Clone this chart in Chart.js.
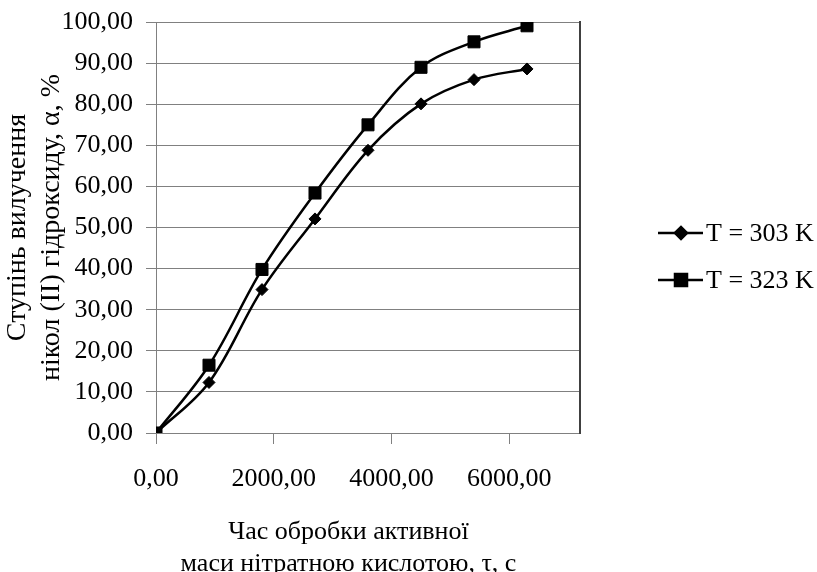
<!DOCTYPE html>
<html>
<head>
<meta charset="utf-8">
<script src="https://cdn.jsdelivr.net/npm/chart.js@4.4.0/dist/chart.umd.min.js"></script>
<style>
  html, body { margin: 0; padding: 0; background: #fff; }
  #wrap { width: 817px; height: 572px; }
</style>
</head>
<body>
<div id="wrap"><canvas id="chart" width="817" height="572"></canvas></div>
<script>
// час обробки, с
const timeSec = [0, 900, 1800, 2700, 3600, 4500, 5400, 6300];
// ступінь вилучення, %
const alpha303 = [0, 12.3, 34.9, 52.1, 68.8, 80.1, 86.0, 88.6];
const alpha323 = [0, 16.5, 39.8, 58.4, 75.0, 89.0, 95.2, 99.1];
const seriesLabels = ['T = 303 K', 'T = 323 K'];
const xTicks = [0, 2000, 4000, 6000];
const yTicks = [0, 10, 20, 30, 40, 50, 60, 70, 80, 90, 100];
const yTitle = ['Ступінь вилучення', 'нікол (II) гідроксиду, α, %'];
const xTitle = ['Час обробки активної\u00a0\u00a0\u00a0\u00a0\u00a0\u00a0', 'маси нітратною кислотою, τ, с\u00a0\u00a0\u00a0\u00a0\u00a0\u00a0'];

const serif = 'Liberation Serif, "Times New Roman", serif';
const fmt = v => v.toFixed(2).replace('.', ',');
const toPoints = ys => ys.map((y, i) => ({ x: timeSec[i], y }));

// легенда: лінія з маркером, як у Excel
const legendPlugin = {
    id: 'sideLegend',
    afterDraw(chart) {
        const ctx = chart.ctx;
        const rows = [233, 280];
        chart.data.datasets.forEach((ds, i) => {
            const y = rows[i];
            ctx.save();
            ctx.strokeStyle = ds.borderColor;
            ctx.lineWidth = ds.borderWidth;
            ctx.beginPath();
            ctx.moveTo(658, y);
            ctx.lineTo(703, y);
            ctx.stroke();
            Chart.helpers.drawPoint(ctx, {
                pointStyle: ds.pointStyle, radius: ds.pointRadius, borderWidth: 1
            }, 681, y);
            ctx.fillStyle = '#000';
            ctx.font = '26px ' + serif;
            ctx.textBaseline = 'middle';
            ctx.fillText(ds.label, 706, y + 1);
            ctx.restore();
        });
    }
};

new Chart(document.getElementById('chart'), {
    type: 'line',
    data: {
        datasets: [
            { label: seriesLabels[0], data: toPoints(alpha303), borderColor: '#000', backgroundColor: '#000',
              borderWidth: 2.5, pointStyle: 'rectRot', pointRadius: 6, pointBorderWidth: 1, tension: 0.35 },
            { label: seriesLabels[1], data: toPoints(alpha323), borderColor: '#000', backgroundColor: '#000',
              borderWidth: 2.5, pointStyle: 'rect', pointRadius: 8.5, pointBorderWidth: 1, tension: 0.35 }
        ]
    },
    options: {
        responsive: false,
        animation: false,
        layout: { padding: { top: 18, right: 237, bottom: 0, left: 0 } },
        plugins: { legend: { display: false }, tooltip: { enabled: false } },
        scales: {
            x: {
                type: 'linear', min: 0, max: 7200,
                grid: { drawOnChartArea: false, drawTicks: true, tickLength: 11, color: '#808080' },
                border: { color: '#808080', width: 1 },
                ticks: { padding: 20, color: '#000', autoSkip: false,
                         font: { family: serif, size: 26 }, callback: v => fmt(v), maxRotation: 0 },
                afterBuildTicks: s => { s.ticks = xTicks.map(v => ({ value: v })); },
                title: { display: true, text: xTitle, color: '#000',
                         font: { family: serif, size: 26, lineHeight: 1.23 }, padding: { top: 0, bottom: -8 } },
                afterFit: s => { s.height = 139; }
            },
            y: {
                min: 0, max: 100,
                grid: { color: '#808080', lineWidth: 1, tickLength: 10 },
                border: { color: '#808080', width: 1 },
                ticks: { padding: 13, color: '#000', autoSkip: false,
                         font: { family: serif, size: 26, lineHeight: 0.7 }, callback: v => fmt(v) },
                afterBuildTicks: s => { s.ticks = yTicks.map(v => ({ value: v })); },
                title: { display: true, text: yTitle, color: '#000',
                         font: { family: serif, size: 28, lineHeight: 1.2 }, padding: { top: 1, bottom: 0 } },
                afterFit: s => { s.width = 156; }
            },
            yRight: {
                position: 'right', min: 0, max: 100,
                grid: { drawOnChartArea: false, drawTicks: false },
                border: { color: '#404040', width: 2 },
                ticks: { display: false },
                afterFit: s => { s.width = 0; }
            }
        }
    },
    plugins: [legendPlugin]
});
</script>
</body>
</html>
